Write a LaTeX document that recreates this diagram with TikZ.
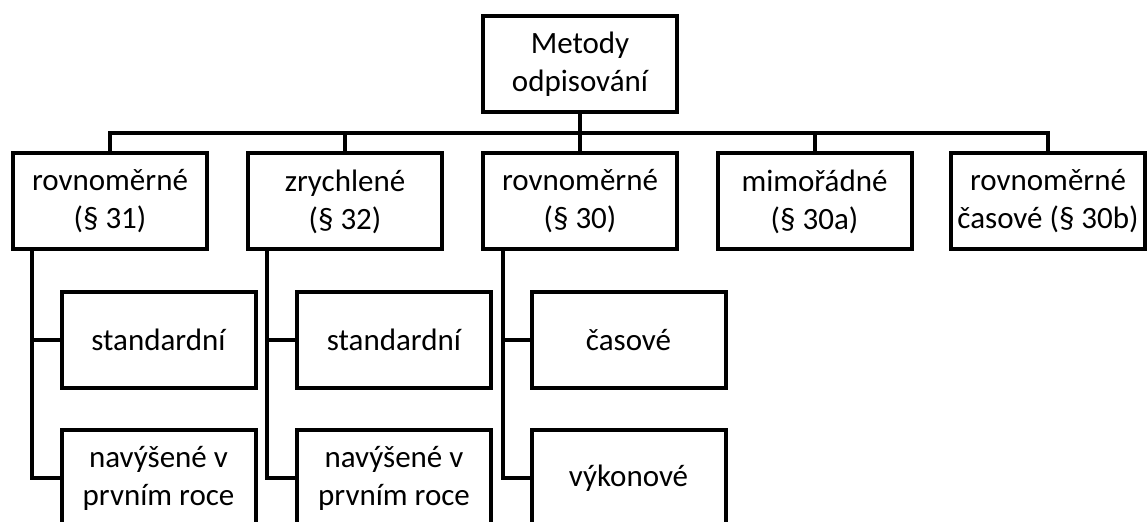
\documentclass[tikz,border=0pt]{standalone}
\usepackage{fontspec}
\setmainfont{Carlito}
\usepackage{tikz}
\usetikzlibrary{positioning}

\begin{document}
\begin{tikzpicture}[
    x=0.5pt, y=-0.5pt,
    box/.style={rectangle, draw, line width=2pt, inner sep=0pt,
                minimum width=97pt, minimum height=48pt, align=center,
                font=\fontsize{15.5pt}{19pt}\selectfont},
    link/.style={line width=2pt}
]
\useasboundingbox (0,0) rectangle (1147,522);

% Root
\node[box] (root) at (580,64) {Metody\\odpisování};

% First level
\node[box] (rov31) at (110,201.5) {rovnoměrné\\(§ 31)};
\node[box] (zry32) at (345,201.5) {zrychlené\\(§ 32)};
\node[box] (rov30) at (580,201.5) {rovnoměrné\\(§ 30)};
\node[box] (mim30a) at (814.5,201.5) {mimořádné\\(§ 30a)};
\node[box] (cas30b) at (1048,201.5) {rovnoměrné\\časové (§ 30b)};

\coordinate (bus) at (0,133);
\foreach \c in {rov31, zry32, rov30, mim30a, cas30b}
    \draw[link] (root.south) |- (bus -| \c.north) -- (\c.north);

% Second level
\node[box] (std31) at (158.5,340) {standardní};
\node[box] (nav31) at (158.5,478) {navýšené v\\prvním roce};
\node[box] (std32) at (394,340) {standardní};
\node[box] (nav32) at (394,478) {navýšené v\\prvním roce};
\node[box] (cas30) at (628.5,340) {časové};
\node[box] (vyk30) at (628.5,478) {výkonové};

\coordinate (t31) at (32,0);
\coordinate (t32) at (267,0);
\coordinate (t30) at (502.5,0);

\draw[link] (t31 |- rov31.south) |- (nav31.west);
\draw[link] (t31 |- std31.west) -- (std31.west);
\draw[link] (t32 |- zry32.south) |- (nav32.west);
\draw[link] (t32 |- std32.west) -- (std32.west);
\draw[link] (t30 |- rov30.south) |- (vyk30.west);
\draw[link] (t30 |- cas30.west) -- (cas30.west);

\end{tikzpicture}
\end{document}
